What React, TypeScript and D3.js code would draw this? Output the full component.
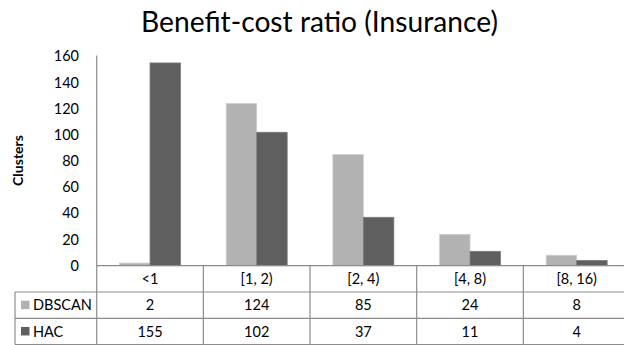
import React from "react";
import * as d3 from "d3";

const categories = ["<1", "[1, 2)", "[2, 4)", "[4, 8)", "[8, 16)"];
const seriesNames = ["DBSCAN", "HAC"];
const dbscanValues = [2, 124, 85, 24, 8];
const hacValues = [155, 102, 37, 11, 4];
const yTicks = [0, 20, 40, 60, 80, 100, 120, 140, 160];
const seriesColors = ["#b2b2b2", "#5f5f5f"];

const W = 624;
const H = 345;
const FONT = "Lato, 'Open Sans', sans-serif";

export default function App() {
  const plotLeft = 96.7;
  const plotRight = 630;
  const plotTop = 56.4;
  const baseY = 265.7;
  const rowH = 26.3;
  const legendLeft = 15;

  const x = d3.scaleBand<string>().domain(categories).range([plotLeft, plotRight]).padding(0);
  const bw = x.bandwidth();
  const xSub = d3
    .scaleBand<string>()
    .domain(seriesNames)
    .range([0, bw])
    .paddingInner(0)
    .paddingOuter(0.75);
  const y = d3.scaleLinear().domain([0, 160]).range([baseY, plotTop]);

  const values = [dbscanValues, hacValues];
  const row1 = baseY + rowH;
  const row2 = row1 + rowH;
  const row3 = row2 + rowH;
  const lineColor = "#8c8c8c";

  return (
    <svg
      width={W}
      height={H}
      style={{ position: "absolute", left: 0, top: 0, background: "#fff" }}
      fontFamily={FONT}
    >
      <rect x={0} y={0} width={W} height={H} fill="#fff" />
      <text x={319.5} y={32} textAnchor="middle" fontSize={28.2} fill="#000">
        Benefit-cost ratio (Insurance)
      </text>

      {/* y axis title */}
      <text
        transform={`translate(23, ${160.5}) rotate(-90)`}
        textAnchor="middle"
        fontSize={14}
        fontWeight="bold"
        fill="#000"
      >
        Clusters
      </text>

      {/* y tick labels */}
      {yTicks.map((t) => (
        <text
          key={t}
          x={79}
          y={y(t)}
          dy="0.35em"
          textAnchor="end"
          fontSize={14.5}
          fill="#000"
        >
          {t}
        </text>
      ))}

      {/* bars */}
      {values.map((vals, si) =>
        categories.map((c, ci) => (
          <rect
            key={`${si}-${ci}`}
            x={(x(c) as number) + (xSub(seriesNames[si]) as number)}
            y={y(vals[ci])}
            width={xSub.bandwidth()}
            height={baseY - y(vals[ci])}
            fill={seriesColors[si]}
            stroke={si === 0 ? "#d0d0d0" : "#7a7a7a"}
            strokeWidth={0.8}
          />
        ))
      )}

      {/* axis and table grid */}
      <g stroke={lineColor} strokeWidth={1.2} fill="none">
        <line x1={plotLeft} y1={plotTop - 1} x2={plotLeft} y2={row3} />
        <line x1={plotLeft} y1={baseY} x2={plotRight} y2={baseY} />
        <line x1={legendLeft} y1={row1} x2={plotRight} y2={row1} />
        <line x1={legendLeft} y1={row2} x2={plotRight} y2={row2} />
        <line x1={legendLeft} y1={row3} x2={plotRight} y2={row3} />
        <line x1={legendLeft} y1={row1} x2={legendLeft} y2={row3} />
        {categories.map((c) => (
          <line
            key={c}
            x1={(x(c) as number) + bw}
            y1={baseY}
            x2={(x(c) as number) + bw}
            y2={row3}
          />
        ))}
      </g>

      {/* category row */}
      {categories.map((c) => (
        <text
          key={c}
          x={(x(c) as number) + bw / 2}
          y={baseY + rowH / 2}
          dy="0.35em"
          textAnchor="middle"
          fontSize={14.5}
          fill="#000"
        >
          {c}
        </text>
      ))}

      {/* data rows with legend keys */}
      {values.map((vals, si) => {
        const rowTop = row1 + si * rowH;
        return (
          <g key={seriesNames[si]}>
            <rect x={21} y={rowTop + rowH / 2 - 4.5} width={8.5} height={8.5} fill={seriesColors[si]} />
            <text x={33} y={rowTop + rowH / 2} dy="0.35em" fontSize={14.5} fill="#000">
              {seriesNames[si]}
            </text>
            {categories.map((c, ci) => (
              <text
                key={c}
                x={(x(c) as number) + bw / 2}
                y={rowTop + rowH / 2}
                dy="0.35em"
                textAnchor="middle"
                fontSize={14.5}
                fill="#000"
              >
                {vals[ci]}
              </text>
            ))}
          </g>
        );
      })}
    </svg>
  );
}
